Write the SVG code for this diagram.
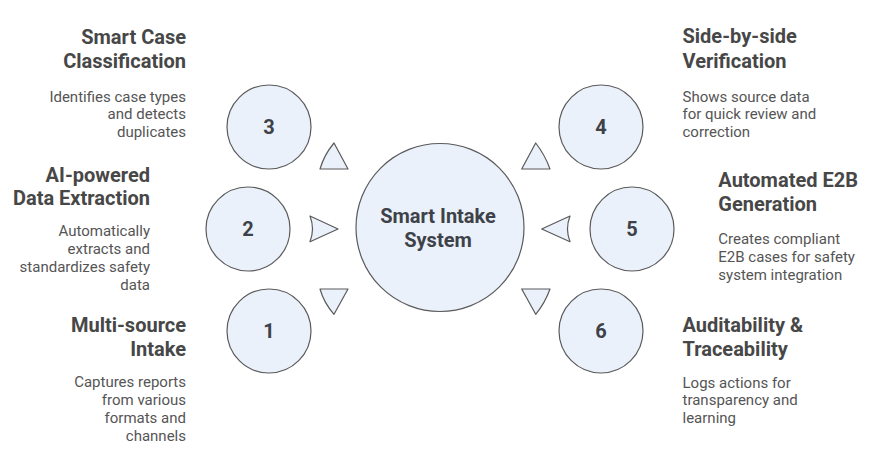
<svg xmlns="http://www.w3.org/2000/svg" width="876" height="462" viewBox="0 0 876 462">
<style>
.c{fill:#ebf1fb;stroke:#5a5a5a;stroke-width:1.2}
.t{fill:#ebf1fb;stroke:#5a5a5a;stroke-width:1.2;stroke-linejoin:round}
.h{font-family:Roboto,"Liberation Sans",sans-serif;font-weight:bold;font-size:20px;fill:#474747}
.d{font-family:Roboto,"Liberation Sans",sans-serif;font-size:15px;fill:#555555}
.n{font-family:Roboto,"Liberation Sans",sans-serif;font-weight:bold;font-size:20px;fill:#3e4248;text-anchor:middle}
.r{text-anchor:end}
</style>
<rect width="876" height="462" fill="#ffffff"/>
<g id="connectors">
<path class="t" d="M334,143 L348,169 L320,169 Q324,155 334,143 Z"/>
<path class="t" d="M338,229 L310,241.7 Q315,229 310,216 Z"/>
<path class="t" d="M334,314.3 L348,289 L320,289 Q324,303 334,314.3 Z"/>
<path class="t" d="M535.7,143 L521.7,169 L550,169 Q545,155 535.7,143 Z"/>
<path class="t" d="M541.7,229 L570,241.7 Q565,229 570,216 Z"/>
<path class="t" d="M535.7,314.3 L521.7,289 L550,289 Q545,303 535.7,314.3 Z"/>
</g>
<g id="center">
<circle class="c" cx="440" cy="227.5" r="84"/>
<text class="n" x="438" y="223.3">Smart Intake</text>
<text class="n" x="438" y="247.3">System</text>
</g>
<g id="node3">
<circle class="c" cx="269" cy="127" r="42"/>
<text class="n" x="269" y="134">3</text>
<text class="h r" x="186" y="44.3">Smart Case</text>
<text class="h r" x="186" y="67.7">Classification</text>
<text class="d r" x="186" y="101.7">Identifies case types</text>
<text class="d r" x="186" y="119.3">and detects</text>
<text class="d r" x="186" y="137.3">duplicates</text>
</g>
<g id="node2">
<circle class="c" cx="248" cy="229" r="42"/>
<text class="n" x="248" y="236">2</text>
<text class="h r" x="150" y="181.7">AI-powered</text>
<text class="h r" x="150" y="205">Data Extraction</text>
<text class="d r" x="150" y="236">Automatically</text>
<text class="d r" x="150" y="254">extracts and</text>
<text class="d r" x="150" y="272">standardizes safety</text>
<text class="d r" x="150" y="290">data</text>
</g>
<g id="node1">
<circle class="c" cx="269" cy="331" r="42"/>
<text class="n" x="269" y="338">1</text>
<text class="h r" x="186" y="331.7">Multi-source</text>
<text class="h r" x="186" y="355.7">Intake</text>
<text class="d r" x="186" y="387.3">Captures reports</text>
<text class="d r" x="186" y="405">from various</text>
<text class="d r" x="186" y="423">formats and</text>
<text class="d r" x="186" y="440.7">channels</text>
</g>
<g id="node4">
<circle class="c" cx="601" cy="127" r="42"/>
<text class="n" x="601" y="134">4</text>
<text class="h" x="682.5" y="43.3">Side-by-side</text>
<text class="h" x="682.5" y="67.7">Verification</text>
<text class="d" x="682.5" y="101.7">Shows source data</text>
<text class="d" x="682.5" y="119.3">for quick review and</text>
<text class="d" x="682.5" y="137.3">correction</text>
</g>
<g id="node5">
<circle class="c" cx="632" cy="229" r="42"/>
<text class="n" x="632" y="236">5</text>
<text class="h" x="718.3" y="186.7">Automated E2B</text>
<text class="h" x="718.3" y="211">Generation</text>
<text class="d" x="718.3" y="244.3">Creates compliant</text>
<text class="d" x="718.3" y="262">E2B cases for safety</text>
<text class="d" x="718.3" y="280">system integration</text>
</g>
<g id="node6">
<circle class="c" cx="601" cy="331" r="42"/>
<text class="n" x="601" y="338">6</text>
<text class="h" x="682.5" y="331.7">Auditability &amp;</text>
<text class="h" x="682.5" y="355.7">Traceability</text>
<text class="d" x="682.5" y="387.7">Logs actions for</text>
<text class="d" x="682.5" y="405">transparency and</text>
<text class="d" x="682.5" y="423">learning</text>
</g>
</svg>
